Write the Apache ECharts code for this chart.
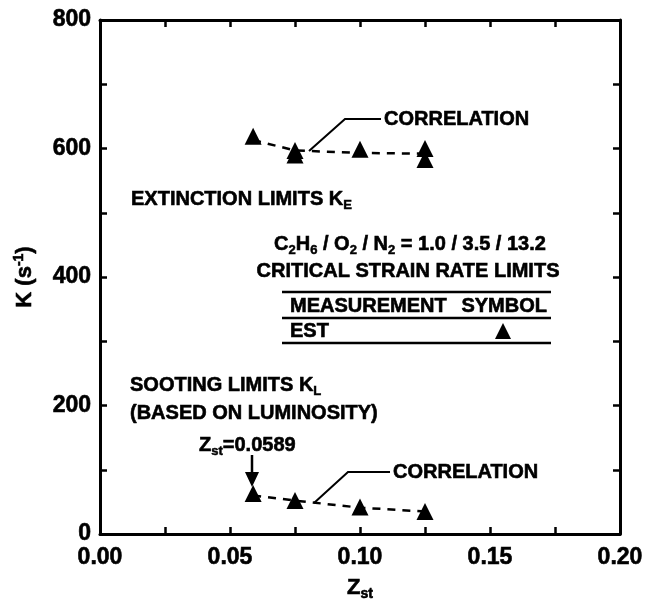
<!DOCTYPE html>
<html>
<head>
<meta charset="utf-8">
<script src="https://cdn.jsdelivr.net/npm/echarts@6/dist/echarts.min.js"></script>
<style>
  html, body { margin: 0; padding: 0; background: #fff; }
  #chart { width: 645px; height: 600px; }
</style>
</head>
<body>
<div id="chart"></div>
<script>
// measured strain-rate limits (EST)
const extinctionZ = [0.0589, 0.075, 0.075, 0.1, 0.125, 0.125];
const extinctionK = [619, 597, 590, 599, 600, 583];
const sootingZ = [0.0589, 0.075, 0.1, 0.125];
const sootingK = [63, 52, 42, 35];

// correlation curves (dashed)
const corrZ = [0.0589, 0.075, 0.1, 0.125];
const corrExtK = [613, 597, 593, 592];
const corrSootK = [60, 52, 41, 35];

// tick labels shown
const xLabels = [0, 0.05, 0.1, 0.15, 0.2];
const yLabels = [0, 200, 400, 600, 800];

const FONT = "'Liberation Sans', Arial, Helvetica, sans-serif";
const pair = (xs, ys) => xs.map((x, i) => [x, ys[i]]);

const chart = echarts.init(document.getElementById("chart"));

const axisCommon = {
  axisLine: { show: true, onZero: false, lineStyle: { color: "#000", width: 3 } },
  axisTick: { show: true, inside: true, length: 7, lineStyle: { color: "#000", width: 2.5 } },
  splitLine: { show: false },
};

// echarts label styles (axis labels / names), slight stroke for heavy print look
const heavy = { textBorderColor: "#000", textBorderWidth: 0.6 };
const eBase = { fontFamily: FONT, fontWeight: "bold", fontSize: 22, color: "#000", ...heavy };
const eSub = { fontFamily: FONT, fontWeight: "bold", fontSize: 14, color: "#000", padding: [12, 0, 0, 0], ...heavy };
const eSup = { fontFamily: FONT, fontWeight: "bold", fontSize: 14, color: "#000", padding: [0, 0, 12, 0], ...heavy };

// zrender styles for graphic texts
const gBase = { fontFamily: FONT, fontWeight: "bold", fontSize: 20, fill: "#000", stroke: "#000", lineWidth: 0.6 };
const gSub = { fontFamily: FONT, fontWeight: "bold", fontSize: 13, fill: "#000", stroke: "#000", lineWidth: 0.5, padding: [12, 0, 0, 0] };

function txt(text, x, y, align) {
  return {
    type: "text",
    z: 10,
    style: {
      text: text,
      x: x,
      y: y,
      textAlign: align || "left",
      textVerticalAlign: "middle",
      fill: "#000",
      fontFamily: FONT,
      fontWeight: "bold",
      fontSize: 20,
      rich: { b: gBase, s: gSub },
    },
  };
}
function seg(pts, w) {
  return {
    type: "polyline",
    z: 10,
    shape: { points: pts },
    style: { stroke: "#000", lineWidth: w || 2, fill: null },
  };
}

chart.setOption({
  animation: false,
  backgroundColor: "#fff",
  grid: { left: 100, right: 25, top: 20, bottom: 66, outerBoundsMode: "none" },
  xAxis: [
    {
      type: "value",
      min: 0,
      max: 0.2,
      interval: 0.025,
      ...axisCommon,
      axisLabel: {
        margin: 12,
        fontFamily: FONT,
        fontWeight: "bold",
        fontSize: 23,
        color: "#000",
        ...heavy,
        formatter: (v) => (xLabels.some((t) => Math.abs(t - v) < 1e-6) ? v.toFixed(2) : ""),
      },
      name: "{b|Z}{s|st}",
      nameLocation: "middle",
      nameGap: 41,
      nameTextStyle: { rich: { b: eBase, s: eSub } },
    },
    {
      type: "value",
      position: "top",
      min: 0,
      max: 0.2,
      interval: 0.025,
      ...axisCommon,
      axisLabel: { show: false },
    },
  ],
  yAxis: [
    {
      type: "value",
      min: 0,
      max: 800,
      interval: 100,
      ...axisCommon,
      axisLabel: {
        margin: 9,
        fontFamily: FONT,
        fontWeight: "bold",
        fontSize: 23,
        color: "#000",
        ...heavy,
        formatter: (v) => (yLabels.indexOf(v) >= 0 ? String(v) : ""),
      },
      name: "{b|K (s}{p|-1}{b|)}",
      nameLocation: "middle",
      nameRotate: 90,
      nameGap: 62,
      nameTextStyle: { rich: { b: eBase, p: eSup } },
    },
    {
      type: "value",
      position: "right",
      min: 0,
      max: 800,
      interval: 100,
      ...axisCommon,
      axisLabel: { show: false },
    },
  ],
  series: [
    {
      name: "Extinction correlation",
      type: "line",
      data: pair(corrZ, corrExtK),
      symbol: "none",
      z: 1,
      lineStyle: { color: "#000", width: 2.5, type: [8, 7] },
    },
    {
      name: "Sooting correlation",
      type: "line",
      data: pair(corrZ, corrSootK),
      symbol: "none",
      z: 1,
      lineStyle: { color: "#000", width: 2.5, type: [8, 7] },
    },
    {
      name: "Extinction EST",
      type: "scatter",
      data: pair(extinctionZ, extinctionK),
      symbol: "triangle",
      symbolSize: 17,
      z: 3,
      itemStyle: { color: "#000", opacity: 1 },
    },
    {
      name: "Sooting EST",
      type: "scatter",
      data: pair(sootingZ, sootingK),
      symbol: "triangle",
      symbolSize: 17,
      z: 3,
      itemStyle: { color: "#000", opacity: 1 },
    },
  ],
  graphic: [
    // correlation labels and leaders
    txt("{b|CORRELATION}", 384, 119),
    seg([[309, 151], [345, 119], [381, 119]]),
    txt("{b|CORRELATION}", 393, 472),
    seg([[314, 503], [348, 472], [390, 472]]),
    // region labels
    txt("{b|EXTINCTION LIMITS K}{s|E}", 131, 199),
    txt("{b|SOOTING LIMITS K}{s|L}", 130, 385),
    txt("{b|(BASED ON LUMINOSITY)}", 130, 413),
    txt("{b|Z}{s|st}{b|=0.0589}", 199, 445),
    seg([[252, 455], [252, 476]], 2.5),
    {
      type: "polygon",
      z: 10,
      shape: { points: [[245, 472], [259, 472], [252, 487]] },
      style: { fill: "#000" },
    },
    // mixture and legend table
    txt("{b|C}{s|2}{b|H}{s|6}{b| / O}{s|2}{b| / N}{s|2}{b| = 1.0 / 3.5 / 13.2}", 410, 244, "center"),
    txt("{b|CRITICAL STRAIN RATE LIMITS}", 408, 271, "center"),
    seg([[282, 292], [551, 292]], 2.5),
    txt("{b|MEASUREMENT}", 290, 306),
    txt("{b|SYMBOL}", 547, 306, "right"),
    seg([[282, 318], [551, 318]], 2.5),
    txt("{b|EST}", 290, 331),
    {
      type: "polygon",
      z: 10,
      shape: { points: [[495, 339], [511, 339], [503, 323]] },
      style: { fill: "#000" },
    },
    seg([[282, 343], [551, 343]], 2.5),
  ],
});
</script>
</body>
</html>
